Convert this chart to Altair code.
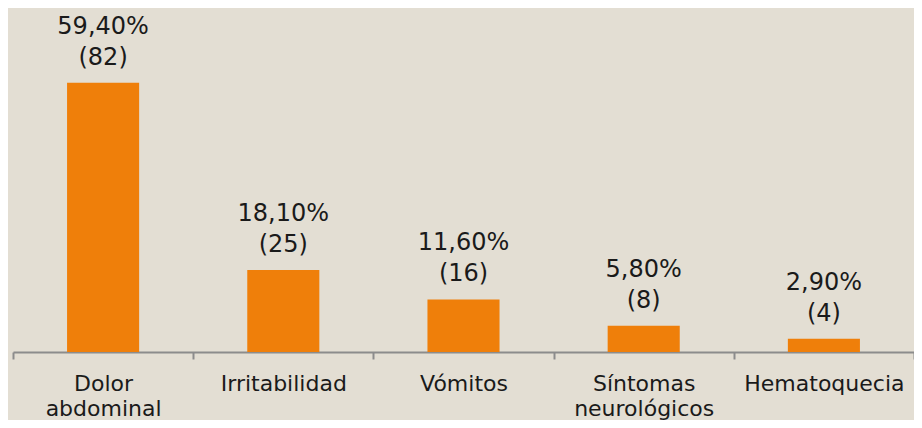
import altair as alt
import pandas as pd

categories = ["Dolor\nabdominal", "Irritabilidad", "Vómitos", "Síntomas\nneurológicos", "Hematoquecia"]
percent = [59.4, 18.1, 11.6, 5.8, 2.9]
pct_labels = ["59,40%", "18,10%", "11,60%", "5,80%", "2,90%"]
count_labels = ["(82)", "(25)", "(16)", "(8)", "(4)"]

df = pd.DataFrame({
    "cat": categories,
    "pct": percent,
    "pl": pct_labels,
    "cl": count_labels,
})

FONT = "DejaVu Sans"
BG = "#E3DED3"
BAR = "#EF7F0A"
TXT = "#1A1A1A"

x = alt.X(
    "cat:N",
    sort=categories,
    title=None,
    scale=alt.Scale(paddingInner=0, paddingOuter=0),
    axis=alt.Axis(
        labelAngle=0,
        tickBand="extent",
        domainColor="#8C8C8C",
        tickColor="#8C8C8C",
        tickSize=7,
        domainWidth=2,
        tickWidth=2,
        labelFont=FONT,
        labelFontSize=22,
        labelColor=TXT,
        labelBaseline="alphabetic",
        labelPadding=31,
        labelLineHeight=25,
        labelExpr="split(datum.label, '\\n')",
    ),
)
y = alt.Y("pct:Q", scale=alt.Scale(domain=[0, 75.9]), axis=None)

base = alt.Chart(df).encode(x=x, y=y)

bars = base.mark_bar(color=BAR, width=alt.RelativeBandSize(0.4))
count_text = base.mark_text(
    font=FONT, fontSize=24, color=TXT, baseline="alphabetic", dy=-18
).encode(text="cl:N")
pct_text = base.mark_text(
    font=FONT, fontSize=24, color=TXT, baseline="alphabetic", dy=-49
).encode(text="pl:N")

chart = (
    alt.layer(bars, count_text, pct_text)
    .properties(
        width=901,
        height=344,
        autosize=alt.AutoSizeParams(type="none"),
        padding={"left": 5, "top": 0, "right": 0, "bottom": 68},
    )
    .configure(background=BG)
    .configure_view(stroke=None)
)

chart.save("out.html", embed_options={"renderer": "svg", "actions": False})
